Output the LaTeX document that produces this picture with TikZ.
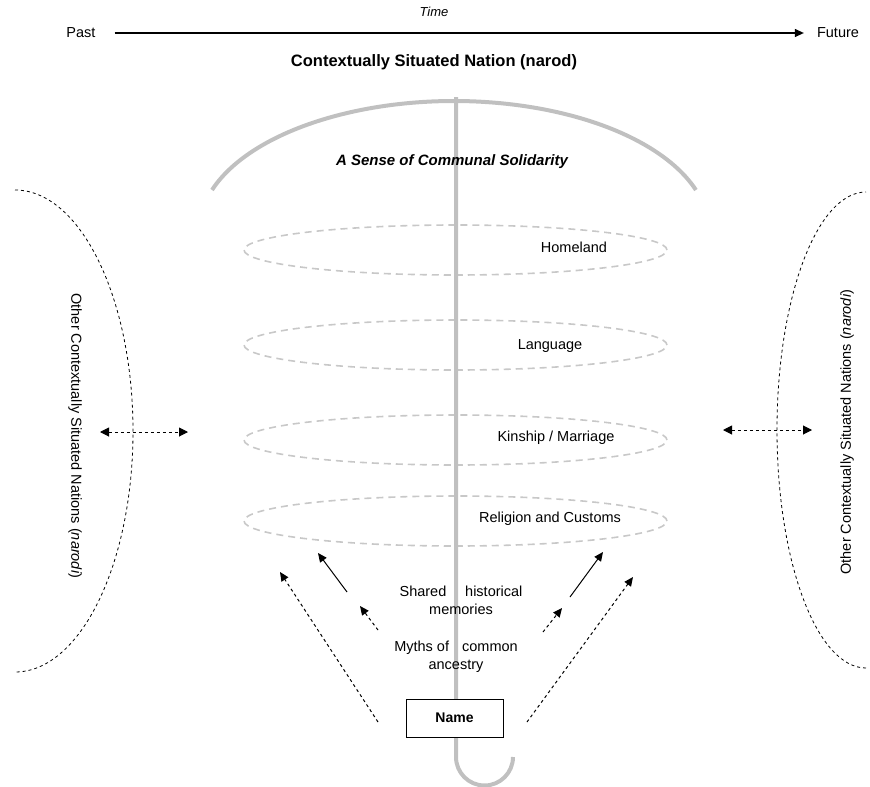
\documentclass[tikz,border=0pt]{standalone}
\usepackage{fontspec}
\setmainfont{Liberation Sans}
\usepackage{tikz}
\usetikzlibrary{shapes,arrows.meta}
\definecolor{stemgrey}{RGB}{192,192,192}
\definecolor{ringgrey}{RGB}{200,200,200}
\tikzstyle{txt} = [font=\fontsize{14.5}{18}\selectfont, inner sep=1pt]
\tikzstyle{layer} = [ellipse, draw=ringgrey, dash pattern=on 7pt off 5pt,
    line width=1.6pt, minimum width=423pt, minimum height=50pt, inner sep=0pt]
\tikzstyle{stem} = [draw=stemgrey, line width=4pt]
\tikzstyle{others} = [draw, dashed, line width=0.8pt]
\tikzstyle{line} = [draw, -{Triangle[length=9pt, width=8pt]}, line width=1pt]

\begin{document}
\begin{tikzpicture}[x=1pt, y=-1pt]
\useasboundingbox (0,0) rectangle (870,787);

% time axis
\node [txt] at (81,33) (past) {Past};
\node [txt] at (838,33) (future) {Future};
\node [txt, font=\fontsize{13}{15}\selectfont\itshape] at (434,12) (time) {Time};
\draw [line, line width=1.3pt, shorten <=18pt, shorten >=12pt] (past) -- (future);

\node [font=\fontsize{16.5}{19}\selectfont\bfseries] at (434,62) (title) {Contextually Situated Nation (narod)};

% layers of the nation
\node [layer] at (455.5,250) (homering) {};
\node [layer] at (455.5,345) (langring) {};
\node [layer] at (455.5,440) (kinring) {};
\node [layer] at (455.5,521) (relring) {};

\draw [stem] (212,190) arc [start angle=198.4, end angle=341.6, x radius=255, y radius=130];
\draw [stem] (456,97) -- (456,757) arc [start angle=180, end angle=0, radius=28.5];

\node [font=\fontsize{15}{18}\selectfont\bfseries\itshape] at (452,162) (solidarity) {A Sense of Communal Solidarity};
\node [txt] at (574,247) (homeland) {Homeland};
\node [txt] at (550,346) (language) {Language};
\node [txt] at (556,438) (kinship) {Kinship / Marriage};
\node [txt] at (550,519) (religion) {Religion and Customs};

\node [txt, align=center] at (461,600) (memories) {Shared\hspace{1.3em}historical\\memories};
\node [txt, align=center] at (456,657) (myths) {Myths of\hspace{0.9em}common\\ancestry};
\node [draw, fill=white, line width=0.8pt, minimum width=97pt, minimum height=38pt,
    font=\fontsize{14}{16}\selectfont\bfseries] at (454.5,718) (name) {Name};

% neighbouring nations
\draw [others] (15,190) arc [start angle=-90, end angle=90, x radius=118, y radius=241];
\draw [others] (866,668) arc [start angle=90, end angle=270, x radius=89, y radius=238];
\node [txt, rotate=-90] at (75,436) (leftnations) {Other Contextually Situated Nations (\textit{narodi})};
\node [txt, rotate=90] at (847,432) (rightnations) {Other Contextually Situated Nations (\textit{narodi})};

\coordinate (la) at (100,432);
\coordinate (lb) at (188,432);
\coordinate (ra) at (723,430);
\coordinate (rb) at (812,430);
\draw [line, dashed, {Triangle[length=9pt, width=9pt]}-{Triangle[length=9pt, width=9pt]}] (la) -- (lb);
\draw [line, dashed, {Triangle[length=9pt, width=9pt]}-{Triangle[length=9pt, width=9pt]}] (ra) -- (rb);

% arrows up from the name
\coordinate (n1) at (378,722);
\coordinate (t1) at (280,572);
\coordinate (n2) at (347,592);
\coordinate (t2) at (318,553);
\coordinate (n3) at (378,630);
\coordinate (t3) at (360,606);
\coordinate (n4) at (543,632);
\coordinate (t4) at (562,608);
\coordinate (n5) at (570,597);
\coordinate (t5) at (603,552);
\coordinate (n6) at (527,722);
\coordinate (t6) at (633,577);
\draw [line, dashed] (n1) -- (t1);
\draw [line] (n2) -- (t2);
\draw [line, dashed] (n3) -- (t3);
\draw [line, dashed] (n4) -- (t4);
\draw [line] (n5) -- (t5);
\draw [line, dashed] (n6) -- (t6);
\end{tikzpicture}
\end{document}
